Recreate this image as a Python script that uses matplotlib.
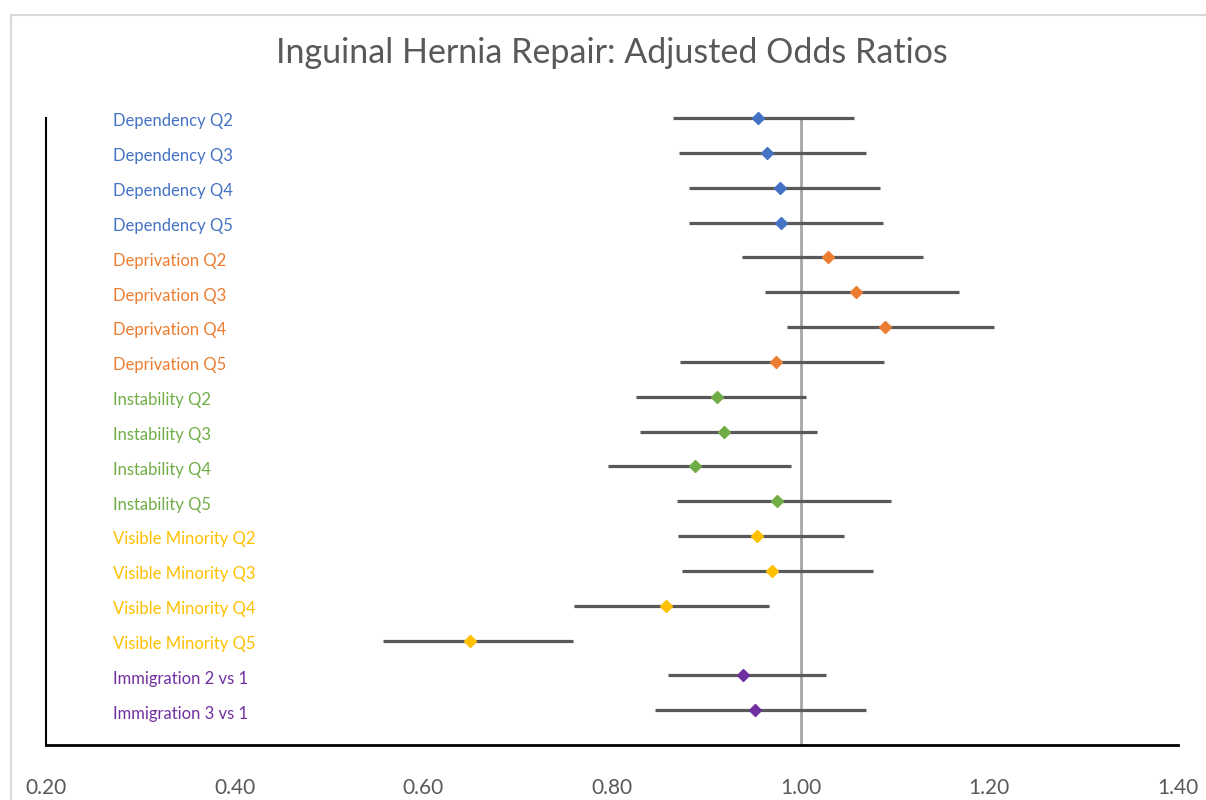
import matplotlib
matplotlib.use("Agg")
import matplotlib.pyplot as plt
from matplotlib.patches import Rectangle

labels = ["Dependency Q2", "Dependency Q3", "Dependency Q4", "Dependency Q5",
          "Deprivation Q2", "Deprivation Q3", "Deprivation Q4", "Deprivation Q5",
          "Instability Q2", "Instability Q3", "Instability Q4", "Instability Q5",
          "Visible Minority Q2", "Visible Minority Q3", "Visible Minority Q4", "Visible Minority Q5",
          "Immigration 2 vs 1", "Immigration 3 vs 1"]
odds = [0.955, 0.964, 0.978, 0.979,
        1.029, 1.059, 1.089, 0.974,
        0.911, 0.919, 0.888, 0.975,
        0.954, 0.970, 0.857, 0.649,
        0.939, 0.952]
lower = [0.865, 0.871, 0.882, 0.882,
         0.938, 0.962, 0.986, 0.872,
         0.825, 0.830, 0.796, 0.869,
         0.870, 0.874, 0.760, 0.557,
         0.859, 0.846]
upper = [1.057, 1.069, 1.084, 1.087,
         1.130, 1.168, 1.205, 1.088,
         1.006, 1.017, 0.990, 1.096,
         1.046, 1.077, 0.966, 0.759,
         1.027, 1.069]
groups = ["Dependency"] * 4 + ["Deprivation"] * 4 + ["Instability"] * 4 + \
         ["Visible Minority"] * 4 + ["Immigration"] * 2
group_colors = {"Dependency": "#4472C4", "Deprivation": "#ED7D31",
                "Instability": "#70AD47", "Visible Minority": "#FFC000",
                "Immigration": "#7030A0"}
xticks = [0.20, 0.40, 0.60, 0.80, 1.00, 1.20, 1.40]
title = "Inguinal Hernia Repair: Adjusted Odds Ratios"

plt.rcParams['font.family'] = ['Lato', 'DejaVu Sans']

W, H = 1206, 800
fig = plt.figure(figsize=(W / 100, H / 100), dpi=100)
ax = fig.add_axes([46 / W, 1 - 745 / H, (1178 - 46) / W, (745 - 118) / H])

n = len(labels)
ypos = [n - i for i in range(n)]

ax.plot([1.0, 1.0], [0, n], color="#A6A6A6", lw=2, zorder=1)
for y, o, lo, hi, g, lab in zip(ypos, odds, lower, upper, groups, labels):
    c = group_colors[g]
    ax.plot([lo, hi], [y, y], color="#595959", lw=2.3, solid_capstyle='butt', zorder=2, clip_on=False)
    ax.plot([o], [y], marker="D", ms=6.5, color=c, mec=c, zorder=3, clip_on=False)
    ax.text(0.271, y - 0.1, lab, color=c, fontsize=12, ha="left", va="center")

ax.set_xlim(0.2, 1.4)
ax.set_ylim(0, n)
ax.set_xticks(xticks)
ax.set_xticklabels([f"{v:.2f}" for v in xticks], color="#595959", fontsize=15)
ax.tick_params(axis='x', length=0, pad=24)
ax.set_yticks([])
for s in ["top", "right"]:
    ax.spines[s].set_visible(False)
ax.spines["left"].set_linewidth(1.5)
ax.spines["bottom"].set_linewidth(2)

fig.text(612 / W, 1 - 53 / H, title, ha="center", va="center", fontsize=24.5, color="#595959")

fig.patches.append(Rectangle((11 / W, -0.01), 1.0, 1 - 15 / H + 0.01, transform=fig.transFigure,
                             fill=False, edgecolor="#D9D9D9", lw=1.5))

fig.savefig("out.png", dpi=100)
